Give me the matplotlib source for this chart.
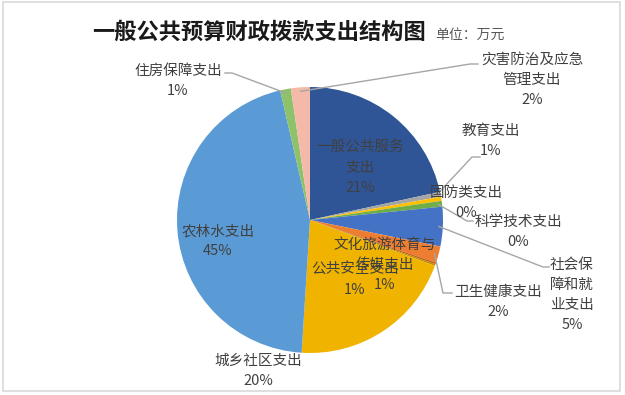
import numpy as np
import matplotlib.pyplot as plt

plt.rcParams['font.family'] = ['Noto Sans CJK SC', 'DejaVu Sans']

# 数据：按饼图顺时针顺序（从12点方向开始）
categories = ['一般公共服务支出', '教育支出', '国防类支出', '科学技术支出',
              '社会保障和就业支出', '卫生健康支出', '文化旅游体育与传媒支出',
              '公共安全支出', '城乡社区支出', '农林水支出', '住房保障支出',
              '灾害防治及应急管理支出']
shares = [21.6, 0.6, 0.5, 0.7, 4.8, 2.0, 0.2, 0.2, 20.4, 45.4, 1.3, 2.3]
pct_labels = ['21%', '1%', '0%', '0%', '5%', '2%', '1%', '1%', '20%', '45%', '1%', '2%']

# 标签的换行写法（与原图一致）
label_text = ['一般公共服务\n支出', '教育支出', '国防类支出', '科学技术支出',
              '社会保\n障和就\n业支出', '卫生健康支出', '文化旅游体育与\n传媒支出',
              '公共安全支出', '城乡社区支出', '农林水支出', '住房保障支出',
              '灾害防治及应急\n管理支出']

colors = ['#2F5597', '#A5A5A5', '#FFC000', '#70AD47', '#4472C4', '#ED7D31',
          '#C55A11', '#BF9000', '#F0B400', '#5B9BD5', '#8DC26A', '#F4B9A8']

W, H = 625, 395
CX, CY, R = 310, 220, 133


def px(x, y):
    """像素坐标 -> 饼图数据坐标"""
    return (x - CX) / R, (CY - y) / R


# 标签中心位置（像素）
label_pos = [(360, 168), (491, 141), (466, 203), (518, 232), (572, 295),
             (498, 302), (385, 265), (355, 280), (258, 371), (218, 241),
             (178, 81), (532, 80)]

# 引导线：(扇区序号, 折点列表 像素)
leaders = [
    (1, [(472, 157), (480, 157)]),
    (3, [(467, 221), (473, 221)]),
    (4, [(543, 267), (549, 267)]),
    (5, [(443, 293), (452, 293)]),
    (10, [(232, 73), (225, 73)]),
    (11, [(470, 64), (478, 64)]),
]

fig = plt.figure(figsize=(W / 100, H / 100), dpi=100)
fig.patch.set_facecolor('white')

# 外框
fig.add_artist(plt.Rectangle((3 / W, (H - 391) / H), 617 / W, 389 / H,
                             transform=fig.transFigure, fill=False,
                             edgecolor='#D9D9D9', linewidth=1.2))

ax = fig.add_axes([(CX - R) / W, (H - CY - R) / H, 2 * R / W, 2 * R / H])
wedges, _ = ax.pie(shares, colors=colors, startangle=90, counterclock=False,
                   radius=1, wedgeprops=dict(linewidth=0))
ax.set_xlim(-1, 1)
ax.set_ylim(-1, 1)
ax.axis('off')

for i, (txt, pct) in enumerate(zip(label_text, pct_labels)):
    x, y = px(*label_pos[i])
    ax.text(x, y, txt + '\n' + pct, ha='center', va='center', fontsize=10.5,
            color='#404040', linespacing=1.55, clip_on=False)

for i, pts in leaders:
    w = wedges[i]
    ang = np.deg2rad((w.theta1 + w.theta2) / 2)
    xs = [np.cos(ang) * 0.97]
    ys = [np.sin(ang) * 0.97]
    for p in pts:
        dx, dy = px(*p)
        xs.append(dx)
        ys.append(dy)
    ax.plot(xs, ys, color='#A6A6A6', linewidth=1.0, clip_on=False)

fig.text(92 / W, 1 - 32 / H, '一般公共预算财政拨款支出结构图', fontsize=16,
         fontweight='bold', color='#1A1A1A', ha='left', va='center')
fig.text(435 / W, 1 - 35 / H, '单位：万元', fontsize=10, color='#595959',
         ha='left', va='center')

fig.savefig('out.png', dpi=100)
